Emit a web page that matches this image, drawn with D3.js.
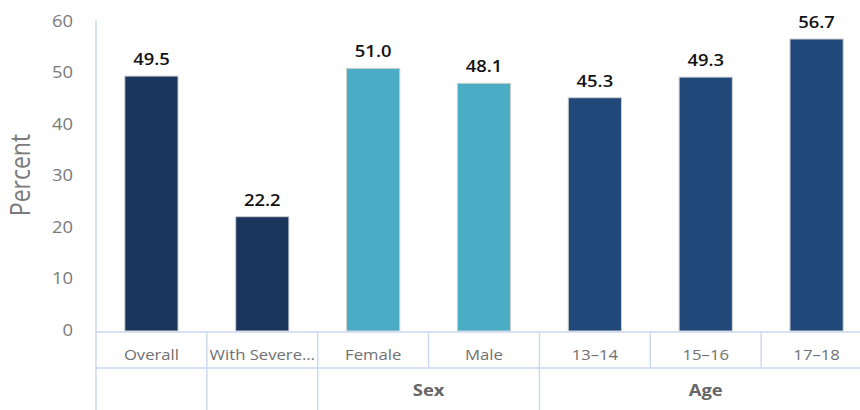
<!DOCTYPE html>
<html>
<head>
<meta charset="utf-8">
<script src="https://cdn.jsdelivr.net/npm/d3@7"></script>
<style>
  body { margin: 0; background: #fff; }
  #chart { width: 860px; height: 410px; }
</style>
</head>
<body>
<div id="chart"></div>
<script>
const categories = ["Overall", "With Severe…", "Female", "Male", "13–14", "15–16", "17–18"];
const values = [49.5, 22.2, 51.0, 48.1, 45.3, 49.3, 56.7];
const groupOf = ["overall", "severe", "sex", "sex", "age", "age", "age"];
const groups = [
    { key: "overall", label: "" },
    { key: "severe", label: "" },
    { key: "sex", label: "Sex" },
    { key: "age", label: "Age" }
];
const yTicks = [0, 10, 20, 30, 40, 50, 60];

const colors = { overall: "#1a365d", severe: "#1a365d", sex: "#4bacc6", age: "#20497a" };
const gridColor = "#cdd9ee";

const width = 860, height = 410;
const plotLeft = 96, plotRight = 872, plotTop = 22, zeroY = 331;
const row1 = 368;
const sx = 1.15; // the source picture is a little wider than tall

const svg = d3.select("#chart").append("svg")
    .attr("width", width)
    .attr("height", height)
    .style("font-family", "'Open Sans', sans-serif");

const x = d3.scaleBand()
    .domain(categories)
    .range([plotLeft, plotRight])
    .paddingInner(0)
    .paddingOuter(0);

const y = d3.scaleLinear()
    .domain([0, 60])
    .range([zeroY, plotTop]);

function place(sel, fx, fy) {
    return sel.attr("transform", (d, i) => `translate(${fx(d, i)},${fy(d, i)}) scale(${sx},1)`);
}

// y tick labels
svg.append("g")
    .selectAll("text")
    .data(yTicks)
    .join("text")
    .call(place, () => 73, d => y(d) - 1)
    .attr("dy", "0.36em")
    .attr("text-anchor", "end")
    .style("font-size", "16px")
    .style("fill", "#7a7a7a")
    .text(d => d);

svg.append("text")
    .attr("transform", `translate(30, 175) scale(${sx},1) rotate(-90)`)
    .attr("text-anchor", "middle")
    .style("font-size", "23px")
    .style("fill", "#7a7a7a")
    .text("Percent");

// bars
const barW = x.bandwidth() * 0.48;
svg.append("g")
    .selectAll("rect")
    .data(values)
    .join("rect")
    .attr("x", (d, i) => x(categories[i]) + (x.bandwidth() - barW) / 2)
    .attr("y", d => y(d))
    .attr("width", barW)
    .attr("height", d => zeroY - y(d))
    .attr("fill", (d, i) => colors[groupOf[i]])
    .attr("stroke", "#d0d0d0")
    .attr("stroke-width", 1);

// value labels
svg.append("g")
    .selectAll("text")
    .data(values)
    .join("text")
    .call(place, (d, i) => x(categories[i]) + x.bandwidth() / 2, d => y(d) - 11)
    .attr("text-anchor", "middle")
    .style("font-size", "16px")
    .style("font-weight", "600")
    .style("fill", "#111")
    .text(d => d.toFixed(1));

// axis frame lines
const grid = svg.append("g").attr("stroke", gridColor).attr("stroke-width", 1.5);
grid.append("line").attr("x1", plotLeft).attr("x2", plotLeft).attr("y1", 20).attr("y2", height);
grid.append("line").attr("x1", plotLeft).attr("x2", width).attr("y1", zeroY + 1).attr("y2", zeroY + 1);
grid.append("line").attr("x1", plotLeft).attr("x2", width).attr("y1", row1).attr("y2", row1);

// category dividers (row 1)
grid.selectAll(".cat-div")
    .data(categories.slice(1))
    .join("line")
    .attr("class", "cat-div")
    .attr("x1", d => x(d)).attr("x2", d => x(d))
    .attr("y1", zeroY + 1).attr("y2", row1);

// group spans
const groupSpans = groups.map(g => {
    const idx = categories.filter((c, i) => groupOf[i] === g.key);
    return { ...g, x0: x(idx[0]), x1: x(idx[idx.length - 1]) + x.bandwidth() };
});

grid.selectAll(".grp-div")
    .data(groupSpans.slice(1))
    .join("line")
    .attr("class", "grp-div")
    .attr("x1", d => d.x0).attr("x2", d => d.x0)
    .attr("y1", row1).attr("y2", height);

// category labels
svg.append("g")
    .selectAll("text")
    .data(categories)
    .join("text")
    .call(place, d => x(d) + x.bandwidth() / 2, () => 360)
    .attr("text-anchor", "middle")
    .style("font-size", "14.5px")
    .style("fill", "#707070")
    .text(d => d);

// group labels
svg.append("g")
    .selectAll("text")
    .data(groupSpans.filter(g => g.label))
    .join("text")
    .call(place, d => (d.x0 + d.x1) / 2, () => 396)
    .attr("text-anchor", "middle")
    .style("font-size", "16px")
    .style("font-weight", "bold")
    .style("fill", "#666")
    .text(d => d.label);
</script>
</body>
</html>
